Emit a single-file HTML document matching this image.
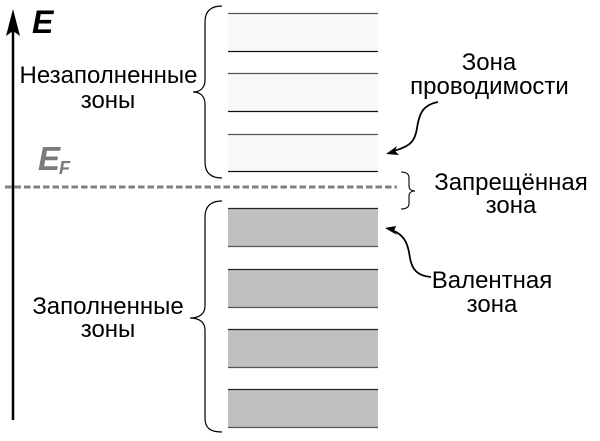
<!DOCTYPE html>
<html>
<head>
<meta charset="utf-8">
<style>
  html,body{margin:0;padding:0;background:#fff;}
  body{width:600px;height:441px;overflow:hidden;}
  svg{display:block;}
  text{font-family:"Liberation Sans","DejaVu Sans",sans-serif;}
</style>
</head>
<body>
<svg width="600" height="441" viewBox="0 0 600 441" xmlns="http://www.w3.org/2000/svg">
  <!-- energy axis -->
  <line x1="13" y1="420" x2="13" y2="28" stroke="#000" stroke-width="2.5"/>
  <polygon points="13,9 20,36 13,31 6,36" fill="#000"/>
  <text x="32" y="33" font-size="32" font-weight="bold" font-style="italic" fill="#000">E</text>

  <!-- E_F -->
  <text x="38" y="170" font-size="33" font-weight="bold" font-style="italic" fill="#7a7a7a">E</text>
  <text x="59" y="174" font-size="18" font-weight="bold" font-style="italic" fill="#7a7a7a">F</text>

  <!-- upper (empty) bands -->
  <g>
    <rect x="228" y="13" width="150" height="38" fill="#f8f8f8"/>
    <rect x="228" y="73" width="150" height="38" fill="#f8f8f8"/>
    <rect x="228" y="134" width="150" height="37" fill="#f8f8f8"/>
    <line x1="228" y1="13.5" x2="378" y2="13.5" stroke="#555" stroke-width="1.2"/>
    <line x1="228" y1="51.5" x2="378" y2="51.5" stroke="#111" stroke-width="1.2"/>
    <line x1="228" y1="73.5" x2="378" y2="73.5" stroke="#555" stroke-width="1.2"/>
    <line x1="228" y1="111.5" x2="378" y2="111.5" stroke="#111" stroke-width="1.2"/>
    <line x1="228" y1="134.5" x2="378" y2="134.5" stroke="#555" stroke-width="1.2"/>
    <line x1="228" y1="171.5" x2="378" y2="171.5" stroke="#111" stroke-width="1.2"/>
  </g>

  <!-- lower (filled) bands -->
  <g>
    <rect x="228" y="208" width="150" height="38" fill="#c0c0c0"/>
    <rect x="228" y="269" width="150" height="38" fill="#c0c0c0"/>
    <rect x="228" y="329" width="150" height="38" fill="#c0c0c0"/>
    <rect x="228" y="389" width="150" height="38" fill="#c0c0c0"/>
    <line x1="228" y1="208.5" x2="378" y2="208.5" stroke="#222" stroke-width="1.2"/>
    <line x1="228" y1="246.5" x2="378" y2="246.5" stroke="#555" stroke-width="1.2"/>
    <line x1="228" y1="269.5" x2="378" y2="269.5" stroke="#222" stroke-width="1.2"/>
    <line x1="228" y1="307.5" x2="378" y2="307.5" stroke="#555" stroke-width="1.2"/>
    <line x1="228" y1="329.5" x2="378" y2="329.5" stroke="#222" stroke-width="1.2"/>
    <line x1="228" y1="367.5" x2="378" y2="367.5" stroke="#555" stroke-width="1.2"/>
    <line x1="228" y1="389.5" x2="378" y2="389.5" stroke="#222" stroke-width="1.2"/>
    <line x1="228" y1="427.5" x2="378" y2="427.5" stroke="#555" stroke-width="1.2"/>
  </g>

  <!-- Fermi level dashed line -->
  <line x1="5" y1="187" x2="397" y2="187" stroke="#808080" stroke-width="3" stroke-dasharray="6.5 3"/>

  <!-- braces -->
  <path d="M222,6 C210,6 205,12 205,22 L205,80 C205,88 200,92 193,92 C200,92 205,96 205,104 L205,162 C205,172 210,178 222,178" fill="none" stroke="#000" stroke-width="1.2"/>
  <path d="M222,201 C210,201 205,207 205,217 L205,306 C205,314 199,318 190,318 C199,318 205,322 205,330 L205,418 C205,428 210,432 222,432" fill="none" stroke="#000" stroke-width="1.2"/>
  <path d="M401,172 C406,172 409,174 409,178 L409,186 C409,189 411,191 415,191 C411,191 409,193 409,196 L409,204 C409,207 406,209 401,209" fill="none" stroke="#000" stroke-width="1.1"/>

  <!-- curved arrows -->
  <path d="M438,102 C422,105 419,115 417,128 C415,142 410,146 394,151" fill="none" stroke="#000" stroke-width="1.8"/>
  <polygon points="386,154 397,146 395,151 399,155" fill="#000"/>
  <path d="M431,277 C418,276 412,270 410,258 C408,244 405,236 394,231" fill="none" stroke="#000" stroke-width="1.8"/>
  <polygon points="385,228 396,226 394,231 397,235" fill="#000"/>

  <!-- labels -->
  <g font-size="24" fill="#000" text-anchor="middle">
    <text x="108.5" y="83">Незаполненные</text>
    <text x="108" y="108">зоны</text>
    <text x="108" y="314">Заполненные</text>
    <text x="108" y="337">зоны</text>
    <text x="489" y="70">Зона</text>
    <text x="489.5" y="94">проводимости</text>
    <text x="511" y="190">Запрещённая</text>
    <text x="511" y="213">зона</text>
    <text x="492" y="288">Валентная</text>
    <text x="492" y="312">зона</text>
  </g>
</svg>
</body>
</html>
